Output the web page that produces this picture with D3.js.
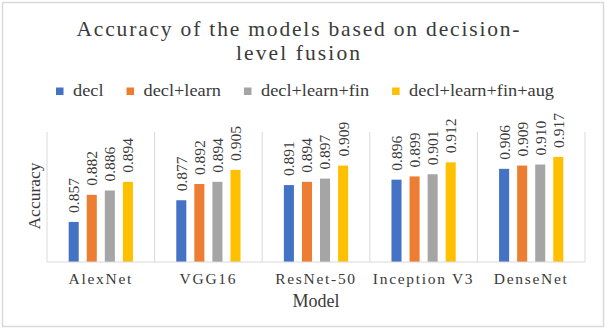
<!DOCTYPE html>
<html>
<head>
<meta charset="utf-8">
<script src="https://cdn.jsdelivr.net/npm/d3@7"></script>
<style>
  html, body { margin: 0; padding: 0; background: #fff; }
  svg { display: block; }
  text { font-family: "Liberation Serif", "Times New Roman", serif; fill: #3a3a3a; }
</style>
</head>
<body>
<div id="chart"></div>
<script>
'use strict';

// chart data
var models = ['AlexNet', 'VGG16', 'ResNet-50', 'Inception V3', 'DenseNet'];
var seriesNames = ['decl', 'decl+learn', 'decl+learn+fin', 'decl+learn+fin+aug'];
var decl = [0.857, 0.877, 0.891, 0.896, 0.906];
var declLearn = [0.882, 0.892, 0.894, 0.899, 0.909];
var declLearnFin = [0.886, 0.894, 0.897, 0.901, 0.910];
var declLearnFinAug = [0.894, 0.905, 0.909, 0.912, 0.917];
var yDomain = [0.82, 0.94];

var seriesValues = [decl, declLearn, declLearnFin, declLearnFinAug];
var colors = ['#4472C4', '#ED7D31', '#A5A5A5', '#FFC000'];

var width = 609, height = 331;
var plot = {left: 47, right: 585, top: 132, bottom: 262};

var svg = d3.select('#chart').append('svg')
  .attr('width', width)
  .attr('height', height);

// chart area frame
svg.append('rect')
  .attr('x', 2.5).attr('y', 2.5)
  .attr('width', 601).attr('height', 324)
  .attr('fill', '#fff')
  .attr('stroke', '#d9d9d9')
  .attr('stroke-width', 1.5);

// title, two lines spread out like the original
var titleLines = [
  {text: 'Accuracy of the models based on decision-', y: 36, len: 443},
  {text: 'level fusion', y: 60, len: 124}
];
svg.selectAll('text.title')
  .data(titleLines)
  .enter().append('text')
  .attr('class', 'title')
  .attr('x', 298)
  .attr('y', function (d) { return d.y; })
  .attr('text-anchor', 'middle')
  .attr('font-size', 21.5)
  .attr('textLength', function (d) { return d.len; })
  .attr('lengthAdjust', 'spacing')
  .text(function (d) { return d.text; });

// scales
var x0 = d3.scaleBand()
  .domain(models)
  .range([plot.left, plot.right]);

var x1 = d3.scaleBand()
  .domain(seriesNames)
  .range([0, x0.bandwidth()])
  .paddingInner(0.444)
  .paddingOuter(1.2);

var y = d3.scaleLinear()
  .domain(yDomain)
  .range([plot.bottom, plot.top]);

// category separators (vertical lines between the groups)
var bounds = models.map(function (m) { return x0(m); }).concat([plot.right]);
svg.append('g')
  .attr('class', 'separators')
  .selectAll('line')
  .data(bounds)
  .enter().append('line')
  .attr('x1', function (d) { return d; })
  .attr('x2', function (d) { return d; })
  .attr('y1', plot.top)
  .attr('y2', plot.bottom)
  .attr('stroke', '#d9d9d9')
  .attr('stroke-width', 1);

// bars
var rows = models.map(function (m, i) {
  return seriesNames.map(function (s, j) {
    return {model: m, series: s, value: seriesValues[j][i], color: colors[j]};
  });
});

var groups = svg.append('g')
  .attr('class', 'bars')
  .selectAll('g')
  .data(rows)
  .enter().append('g')
  .attr('transform', function (d, i) { return 'translate(' + x0(models[i]) + ',0)'; });

groups.selectAll('rect')
  .data(function (d) { return d; })
  .enter().append('rect')
  .attr('x', function (d) { return x1(d.series); })
  .attr('y', function (d) { return y(d.value); })
  .attr('width', x1.bandwidth())
  .attr('height', function (d) { return plot.bottom - y(d.value); })
  .attr('fill', function (d) { return d.color; });

// value labels, rotated
var fmt = d3.format('.3f');
groups.selectAll('text')
  .data(function (d) { return d; })
  .enter().append('text')
  .attr('transform', function (d) {
    var cx = x1(d.series) + x1.bandwidth() / 2;
    return 'translate(' + cx + ',' + (y(d.value) - 9) + ') rotate(-90)';
  })
  .attr('dy', '0.35em')
  .attr('font-size', 15.5)
  .text(function (d) { return fmt(d.value); });

// x axis line
svg.append('line')
  .attr('x1', plot.left).attr('x2', plot.right)
  .attr('y1', plot.bottom).attr('y2', plot.bottom)
  .attr('stroke', '#d9d9d9')
  .attr('stroke-width', 1.2);

// category labels
svg.append('g')
  .selectAll('text')
  .data(models)
  .enter().append('text')
  .attr('x', function (d) { return x0(d) + x0.bandwidth() / 2; })
  .attr('y', 284)
  .attr('text-anchor', 'middle')
  .attr('font-size', 15.5)
  .attr('letter-spacing', '1.7px')
  .text(function (d) { return d; });

// axis titles
svg.append('text')
  .attr('x', (plot.left + plot.right) / 2)
  .attr('y', 307)
  .attr('text-anchor', 'middle')
  .attr('font-size', 18)
  .text('Model');

svg.append('text')
  .attr('transform', 'translate(40,196) rotate(-90)')
  .attr('text-anchor', 'middle')
  .attr('font-size', 17.5)
  .text('Accuracy');

// legend, laid out left to right and then centred
var legend = svg.append('g').attr('class', 'legend');
var cursor = 0;
seriesNames.forEach(function (name, i) {
  var item = legend.append('g').attr('transform', 'translate(' + cursor + ',0)');
  item.append('rect')
    .attr('x', 0).attr('y', -8)
    .attr('width', 7.5).attr('height', 7.5)
    .attr('fill', colors[i]);
  var t = item.append('text')
    .attr('x', 17)
    .attr('y', 0)
    .attr('font-size', 16.5)
    .text(name);
  var w = t.node().getComputedTextLength() * 1.11;
  t.attr('textLength', w).attr('lengthAdjust', 'spacingAndGlyphs');
  cursor += 17 + w + 23;
});
var legendWidth = cursor - 23;
legend.attr('transform', 'translate(' + (305 - legendWidth / 2) + ',95.5)');
</script>
</body>
</html>
